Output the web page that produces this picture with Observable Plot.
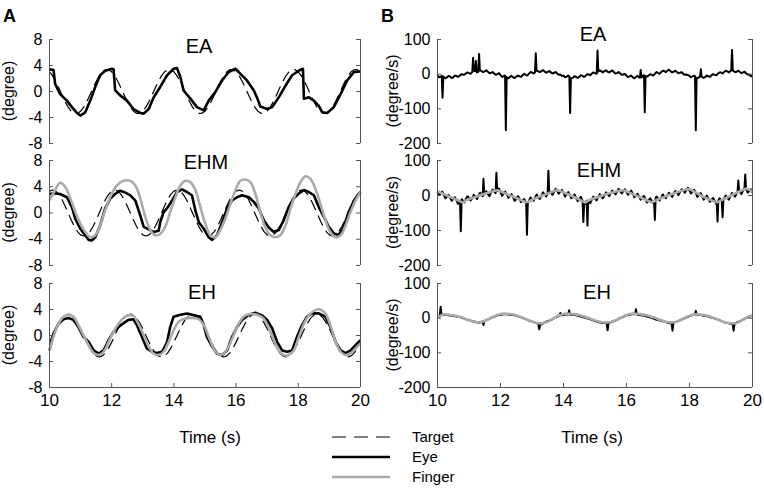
<!DOCTYPE html>
<html><head><meta charset="utf-8">
<script src="https://cdn.jsdelivr.net/npm/d3@7"></script>
<script src="https://cdn.jsdelivr.net/npm/@observablehq/plot@0.6"></script>
<style>
body{margin:0;background:#fff;}
#root{position:relative;width:764px;height:488px;overflow:hidden;background:#fff;}
</style></head><body><div id="root"></div>
<script>
// ---------------- DATA ----------------
const timeStart = 10, timeStep = 0.1;
const xTicks = [10, 12, 14, 16, 18, 20];
const posTicks = [-8, -4, 0, 4, 8];
const velTicks = [-200, -100, 0, 100];
const panelTitles = ["EA", "EHM", "EH"];
const legendLabels = ["Target", "Eye", "Finger"];

// Column A: position (degree); targets sampled every 0.1 s from 10 to 20 s
const eaTarget = [3.03,2.40,1.54,0.53,-0.53,-1.54,-2.40,-3.03,-3.36,-3.36,-3.03,-2.40,-1.54,-0.53,0.53,1.54,2.40,3.03,3.36,3.36,
 3.03,2.40,1.54,0.53,-0.53,-1.54,-2.40,-3.03,-3.36,-3.36,-3.03,-2.40,-1.54,-0.53,0.53,1.54,2.40,3.03,3.36,3.36,
 3.03,2.40,1.54,0.53,-0.53,-1.54,-2.40,-3.03,-3.36,-3.36,-3.03,-2.40,-1.54,-0.53,0.53,1.54,2.40,3.03,3.36,3.36,
 3.03,2.40,1.54,0.53,-0.53,-1.54,-2.40,-3.03,-3.36,-3.36,-3.03,-2.40,-1.54,-0.53,0.53,1.54,2.40,3.03,3.36,3.36,
 3.03,2.40,1.54,0.53,-0.53,-1.54,-2.40,-3.03,-3.36,-3.36,-3.03,-2.40,-1.54,-0.53,0.53,1.54,2.40,3.03,3.36,3.36,3.03];
const ehmTarget = [3.33,3.5,3.33,2.83,2.06,1.08,0,-1.08,-2.06,-2.83,-3.33,-3.5,-3.33,-2.83,-2.06,-1.08,0,1.08,2.06,2.83,
 3.33,3.5,3.33,2.83,2.06,1.08,0,-1.08,-2.06,-2.83,-3.33,-3.5,-3.33,-2.83,-2.06,-1.08,0,1.08,2.06,2.83,
 3.33,3.5,3.33,2.83,2.06,1.08,0,-1.08,-2.06,-2.83,-3.33,-3.5,-3.33,-2.83,-2.06,-1.08,0,1.08,2.06,2.83,
 3.33,3.5,3.33,2.83,2.06,1.08,0,-1.08,-2.06,-2.83,-3.33,-3.5,-3.33,-2.83,-2.06,-1.08,0,1.08,2.06,2.83,
 3.33,3.5,3.33,2.83,2.06,1.08,0,-1.08,-2.06,-2.83,-3.33,-3.5,-3.33,-2.83,-2.06,-1.08,0,1.08,2.06,2.83,3.33];
const ehTarget = [-1.02,0,1.02,1.94,2.67,3.14,3.3,3.14,2.67,1.94,1.02,0,-1.02,-1.94,-2.67,-3.14,-3.3,-3.14,-2.67,-1.94,
 -1.02,0,1.02,1.94,2.67,3.14,3.3,3.14,2.67,1.94,1.02,0,-1.02,-1.94,-2.67,-3.14,-3.3,-3.14,-2.67,-1.94,
 -1.02,0,1.02,1.94,2.67,3.14,3.3,3.14,2.67,1.94,1.02,0,-1.02,-1.94,-2.67,-3.14,-3.3,-3.14,-2.67,-1.94,
 -1.02,0,1.02,1.94,2.67,3.14,3.3,3.14,2.67,1.94,1.02,0,-1.02,-1.94,-2.67,-3.14,-3.3,-3.14,-2.67,-1.94,
 -1.02,0,1.02,1.94,2.67,3.14,3.3,3.14,2.67,1.94,1.02,0,-1.02,-1.94,-2.67,-3.14,-3.3,-3.14,-2.67,-1.94,-1.02];

// eye / finger position: [time (s), degree]
const eaEye = [[10.00,3.4],[10.13,3.3],[10.18,1.2],[10.34,-0.4],[10.56,-1.4],[10.72,-2.4],[10.88,-3.3],[10.99,-3.7],[11.15,-3.2],[11.31,-1.4],[11.47,0.7],[11.63,2.5],[11.79,3.2],[12.01,3.5],[12.06,3.4],[12.11,0.2],[12.27,-0.6],[12.49,-1.4],[12.70,-2.7],[12.92,-3.3],[13.03,-3.4],[13.19,-2.7],[13.35,-0.9],[13.56,0.7],[13.78,2.5],[13.99,3.5],[14.10,3.6],[14.21,2.2],[14.31,0.15],[14.53,-1.1],[14.74,-2.4],[14.96,-2.9],[15.12,-1.4],[15.33,-0.1],[15.55,1.7],[15.76,3.0],[15.98,3.5],[16.14,2.7],[16.35,1.7],[16.57,0.15],[16.67,-0.9],[16.78,-2.3],[17.00,-2.7],[17.16,-2.4],[17.37,-0.9],[17.59,0.9],[17.80,2.5],[18.02,3.2],[18.15,3.5],[18.18,-1.1],[18.34,-0.9],[18.50,-1.4],[18.66,-2.2],[18.77,-3.2],[18.93,-3.3],[19.14,-2.4],[19.36,-0.4],[19.57,1.7],[19.79,3.0],[20.00,3.1]];
const ehmEye = [[10.00,2.9],[10.13,3.0],[10.34,2.9],[10.56,2.4],[10.72,0.9],[10.83,-0.9],[10.99,-2.4],[11.15,-3.4],[11.26,-4.1],[11.36,-4.2],[11.47,-3.7],[11.63,-1.9],[11.79,0.7],[11.95,2.2],[12.11,2.9],[12.27,3.4],[12.44,3.1],[12.60,2.7],[12.76,1.9],[12.92,-0.4],[13.03,-2.1],[13.19,-2.5],[13.35,-2.9],[13.51,-2.7],[13.56,-1.4],[13.67,0.15],[13.78,0.7],[13.94,1.9],[14.10,3.2],[14.26,3.6],[14.42,3.2],[14.58,2.7],[14.69,0.4],[14.80,-1.4],[14.96,-2.4],[15.12,-3.7],[15.23,-4.1],[15.39,-3.4],[15.55,-1.4],[15.71,0.7],[15.87,1.9],[16.03,2.4],[16.19,2.7],[16.41,2.4],[16.57,1.7],[16.73,0.7],[16.89,-1.1],[17.05,-2.2],[17.21,-2.9],[17.37,-2.6],[17.53,-1.1],[17.69,0.9],[17.85,2.2],[18.02,3.0],[18.18,3.5],[18.34,3.2],[18.50,2.7],[18.66,0.9],[18.82,-0.6],[18.98,-2.1],[19.14,-3.1],[19.30,-3.4],[19.46,-2.1],[19.62,0.15],[19.79,1.9],[20.00,3.2]];
const ehmFinger = [[10.00,1.9],[10.18,3.5],[10.34,4.6],[10.50,4.0],[10.67,2.2],[10.83,0.15],[10.99,-1.6],[11.15,-2.9],[11.31,-3.7],[11.47,-3.4],[11.63,-1.9],[11.79,0.4],[11.95,2.4],[12.17,4.2],[12.38,4.9],[12.60,4.9],[12.76,4.2],[12.92,2.2],[13.08,-0.6],[13.24,-2.6],[13.40,-3.4],[13.56,-3.2],[13.72,-2.1],[13.88,0.15],[14.05,2.4],[14.21,4.2],[14.37,4.9],[14.53,4.7],[14.69,3.5],[14.85,0.9],[15.01,-1.6],[15.17,-3.4],[15.33,-3.7],[15.49,-2.6],[15.65,-0.9],[15.82,1.4],[15.98,3.5],[16.14,4.9],[16.30,5.1],[16.46,4.7],[16.62,2.9],[16.78,0.15],[16.94,-2.2],[17.10,-3.4],[17.26,-3.7],[17.42,-3.4],[17.59,-1.9],[17.75,0.7],[17.91,2.9],[18.07,4.7],[18.23,5.6],[18.39,5.2],[18.55,3.7],[18.71,1.4],[18.87,-1.1],[19.03,-2.9],[19.20,-3.7],[19.36,-3.4],[19.52,-1.9],[19.68,0.15],[19.84,1.9],[20.00,3.2]];
const ehEye = [[10.00,-2.3],[10.13,0.3],[10.29,1.8],[10.45,2.5],[10.61,2.7],[10.77,2.4],[10.93,1.3],[11.09,-0.2],[11.26,-1.0],[11.42,-2.3],[11.58,-2.8],[11.74,-2.3],[11.90,-0.7],[12.06,0.6],[12.22,1.3],[12.38,1.9],[12.54,2.4],[12.70,2.5],[12.81,1.6],[12.97,-0.2],[13.13,-2.0],[13.29,-2.5],[13.45,-2.7],[13.62,-2.5],[13.78,-1.0],[13.88,1.3],[13.99,2.9],[14.21,3.2],[14.42,3.4],[14.64,3.1],[14.85,2.9],[14.96,1.6],[15.06,-0.2],[15.23,-1.7],[15.39,-2.8],[15.55,-3.0],[15.71,-2.3],[15.87,-0.2],[16.03,1.3],[16.19,2.4],[16.41,3.2],[16.62,3.5],[16.83,3.1],[17.00,2.4],[17.16,1.1],[17.32,-1.0],[17.48,-2.3],[17.64,-2.5],[17.80,-2.3],[17.96,-0.2],[18.12,1.6],[18.28,2.9],[18.44,3.4],[18.66,3.4],[18.87,2.9],[19.03,1.3],[19.20,-1.0],[19.36,-2.3],[19.52,-2.7],[19.68,-2.3],[19.84,-1.5],[20.00,-0.7]];
const ehFinger = [[10.00,-2.3],[10.13,-0.2],[10.29,1.8],[10.45,2.9],[10.61,3.2],[10.77,2.9],[10.93,1.6],[11.09,0.05],[11.26,-1.5],[11.42,-2.7],[11.58,-3.0],[11.74,-2.5],[11.90,-1.0],[12.06,0.6],[12.22,1.8],[12.38,2.7],[12.54,3.1],[12.70,3.0],[12.86,1.8],[13.03,0.05],[13.19,-1.7],[13.35,-2.8],[13.51,-3.0],[13.67,-2.5],[13.83,-1.0],[13.99,0.8],[14.15,2.1],[14.37,2.6],[14.58,2.7],[14.80,2.5],[14.96,1.6],[15.12,-0.2],[15.28,-2.0],[15.44,-2.9],[15.60,-2.8],[15.76,-1.7],[15.92,0.05],[16.08,1.8],[16.24,2.9],[16.46,3.3],[16.67,3.2],[16.89,2.6],[17.05,1.1],[17.21,-0.7],[17.37,-2.3],[17.53,-3.0],[17.69,-3.0],[17.85,-2.3],[18.02,-0.2],[18.18,1.8],[18.34,3.1],[18.55,3.9],[18.71,4.0],[18.87,3.4],[19.03,1.6],[19.20,-1.0],[19.36,-2.5],[19.52,-3.0],[19.68,-2.8],[19.84,-2.0],[20.00,-1.2]];

// Column B: velocity (degree/s). Values every 0.1 s (10.0..20.0), in-between values at 10.05..19.95,
// plus saccade spikes [time, peak].
const eaEyeVel = [-3,-7,-8,-9,-7,-9,-5,-5,-1,2,3,6,9,7,9,8,7,4,2,0,
 -3,-6,-9,-8,-9,-7,-6,-3,-2,1,5,5,8,9,8,7,5,4,2,-1,
 -4,-7,-8,-10,-8,-8,-5,-5,-1,2,3,7,8,9,7,8,6,3,2,-1,
 -4,-6,-9,-8,-9,-7,-5,-4,-2,1,4,6,9,10,8,7,6,4,1,-1,
 -5,-6,-9,-9,-8,-8,-6,-3,-2,1,5,6,8,9,9,7,6,5,2,-2,-4];
const eaEyeVelMid = [-9,-4,-12,-5,-11,-4,-8,0,-2,5,1,10,5,11,6,11,3,6,-2,3,
 -8,-4,-12,-5,-11,-4,-8,1,-4,6,2,10,6,12,4,9,2,6,-2,-5,
 -9,-4,-12,-6,-11,-3,-8,0,-3,5,1,11,5,11,5,11,2,6,-2,1,
 -9,-4,-12,-5,-12,-3,-7,0,-4,6,1,10,6,13,5,10,3,6,-2,-3,
 -9,-4,-12,-6,-11,-4,-8,0,-3,5,2,10,5,12,6,10,3,7,-1,-6];
const eaSpikes = [[10.16,-68],[11.13,47],[11.22,38],[11.32,58],[12.17,-162],[13.12,60],[14.21,-112],[15.08,68],[16.45,12],[16.58,-110],[18.2,-162],[18.36,14],[19.35,70]];
const ehmEyeVel = [10,6,2,-3,-6,-10,-13,-18,-14,
 -10,-6,-8,-3,0,2,6,4,9,12,14,
 10,5,3,-2,-5,-10,-8,-14,-20,-16,
 -10,-5,-7,0,3,5,8,10,13,
 11,8,4,2,-4,-6,-10,-14,-22,
 -16,-12,-8,-5,-2,0,4,6,9,11,12,13,
 10,9,5,0,-3,-7,-10,-14,-16,
 -12,-8,-6,-3,1,2,6,8,10,14,16,14,
 12,7,2,-2,-6,-9,-12,-16,-18,
 -12,-8,-6,-2,3,6,10,14,18,14,8];
const ehmEyeVelMid = [1,11,-8,2,-15,-5,-24,-9,-20,-2,-14,2,-10,8,-4,12,-2,17,6,20,
 -1,11,-7,4,-15,-2,-19,-10,-25,-6,-15,3,-10,9,-3,13,2,19,5,16,
 -3,10,-8,3,-16,-4,-26,-12,-22,-3,-14,4,-8,9,-2,14,3,19,6,18,
 2,14,-5,5,-12,-1,-20,-8,-22,-3,-14,3,-8,8,-4,13,1,18,8,22,
 6,16,-4,7,-12,0,-18,-7,-24,-8,-17,0,-12,7,-3,15,4,23,8,18];
const ehmSpikes = [[10.74,-102],[11.46,48],[11.87,65],[12.84,-112],[13.52,71],[14.63,-76],[14.76,-86],[16.9,-70],[18.89,-74],[19.05,-62],[19.55,43],[19.77,60]];
const ehmFingerVel = [12,8,4,0,-4,-8,-12,-16,-20,
 -14,-10,-7,-4,-1,2,5,8,11,13,15,
 12,8,4,0,-3,-7,-11,-15,-19,-18,
 -12,-8,-5,-1,2,6,9,13,15,
 13,9,5,1,-3,-7,-11,-16,-20,
 -14,-10,-7,-4,-1,2,5,7,10,12,14,15,
 12,8,4,0,-4,-8,-12,-16,-20,
 -15,-11,-7,-4,0,3,6,9,12,15,18,18,
 13,8,3,-2,-6,-10,-14,-18,-19,
 -14,-10,-5,-1,4,8,12,16,20,16,12];
const ehEyeVel = [2,8,10,
 9,8,7,5,3,0,-3,-6,-9,-10,-13,
 -11,-7,-4,1,4,8,10,11,
 11,10,9,7,4,1,-3,-7,-10,-13,-16,-18,
 -12,-8,-6,0,4,8,9,11,
 10,10,8,6,3,1,-2,-5,-8,-11,-13,-14,-15,
 -12,-9,-5,0,4,8,10,12,
 11,9,8,6,3,1,-3,-5,-8,-10,-13,-15,
 -13,-10,-6,-2,2,6,9,10,
 10,8,7,5,2,-1,-4,-8,-12,-14,-16,-17,
 -12,-9,-4,1,5,8];
const ehSpikes = [[10.1,33],[11.46,-20],[13.23,-32],[13.9,15],[14.18,23],[15.4,-35],[16.3,26],[17.46,-36],[18.2,21],[19.4,-36]];
const ehFingerVel = [0,7,11,
 10.7,10,8.5,6.5,4,1,-2.5,-6,-9,-11.5,-12,
 -10.5,-8,-4,0,5,9,12,13,
 12.7,12,10.5,8,5,2,-2,-6,-10,-13,-14.7,-15,
 -13,-10,-5,0,5,9,12,13,
 12.8,12,11,9,6,3.5,0.5,-3,-6,-9,-11,-12,-12,
 -11,-8,-4,1,5,9,12,13,
 12.8,12,11,9,6.5,4,1,-2.5,-6,-9,-11,-12,
 -11.8,-10,-6,-1,3,7,10,11,
 11,10,8.5,6,3,0,-4,-7.5,-11,-13.5,-14.7,-15,
 -14,-10,-5,0,4,7];

// ---------------- HELPERS ----------------
const font = "'Liberation Sans', Arial, Helvetica, sans-serif";
const axisColor = "#555";
const targetStyle = {stroke: "#000", width: 1.2, dash: "11,6"};
const eyeStyle = {stroke: "#000", width: 2.6};
const fingerStyle = {stroke: "#aaaaaa", width: 2.6};

function seq(values, mids) {
  const pts = values.map((v, i) => [timeStart + i * timeStep, v]);
  if (mids) mids.forEach((v, i) => pts.push([timeStart + (i + 0.5) * timeStep, v]));
  return pts.sort((a, b) => a[0] - b[0]);
}
function interpAt(pts, t) {
  const i = d3.bisector(d => d[0]).left(pts, t);
  if (i <= 0) return pts[0][1];
  if (i >= pts.length) return pts[pts.length - 1][1];
  const [t0, v0] = pts[i - 1], [t1, v1] = pts[i];
  return v0 + (v1 - v0) * (t - t0) / (t1 - t0);
}
function withSpikes(base, mids, spikes, hw) {
  const pts = seq(base, mids);
  const out = pts.filter(p => !spikes.some(([t]) => Math.abs(p[0] - t) <= hw + 1e-9));
  for (const [t, peak] of spikes) {
    out.push([t - hw, interpAt(pts, t - hw)], [t, peak], [t + hw, interpAt(pts, t + hw)]);
  }
  return out.sort((a, b) => a[0] - b[0]);
}

const rows = [{top: 39, bottom: 143}, {top: 160, bottom: 265}, {top: 283, bottom: 387}];
const cols = [{left: 0, width: 380, mL: 49, mR: 20}, {left: 380, width: 384, mL: 57, mR: 12}];
const root = document.getElementById("root");

function drawPanel(r, c, yDomain, yTicks, series) {
  const row = rows[r], col = cols[c];
  const bottomRow = r === 2;
  const mT = 30, mB = bottomRow ? 40 : 20;
  const h = row.bottom - row.top;
  const x0 = xTicks[0], x1 = xTicks[xTicks.length - 1];
  const pxX = (col.width - col.mL - col.mR) / (x1 - x0);
  const pxY = h / (yDomain[1] - yDomain[0]);
  const tx = 4 / pxX, ty = 4 / pxY;
  const marks = [];
  for (const s of series) {
    marks.push(Plot.line(s.data, {x: d => d[0], y: d => d[1], stroke: s.style.stroke, strokeWidth: s.style.width,
      strokeDasharray: s.style.dash, curve: s.curve || "linear", strokeLinejoin: "round", strokeLinecap: "butt"}));
  }
  marks.push(Plot.ruleX([x0, x1], {stroke: axisColor, strokeWidth: 1}));
  marks.push(Plot.ruleY(yTicks, {x1: x0, x2: x0 + tx, stroke: axisColor}));
  marks.push(Plot.ruleY(yTicks, {x1: x1 - tx, x2: x1, stroke: axisColor}));
  marks.push(Plot.text(yTicks, {y: d => d, frameAnchor: "left", dx: -7, textAnchor: "end", text: d => String(d), fontSize: 16, fill: "#000"}));
  if (bottomRow) {
    marks.push(Plot.ruleY([yDomain[0]], {stroke: axisColor}));
    marks.push(Plot.ruleX(xTicks, {y1: yDomain[0], y2: yDomain[0] + ty, stroke: axisColor}));
    marks.push(Plot.text(xTicks, {x: d => d, frameAnchor: "bottom", dy: 18, text: d => String(d), fontSize: 17, fill: "#000"}));
  }
  const svg = Plot.plot({
    width: col.width, height: h + mT + mB,
    marginLeft: col.mL, marginRight: col.mR, marginTop: mT, marginBottom: mB,
    x: {domain: [x0, x1], axis: null},
    y: {domain: yDomain, axis: null},
    style: {background: "transparent", overflow: "visible", fontFamily: font},
    marks
  });
  svg.style.position = "absolute";
  svg.style.left = col.left + "px";
  svg.style.top = (row.top - mT) + "px";
  root.appendChild(svg);
}

// Column A
drawPanel(0, 0, [-8, 8], posTicks, [
  {data: seq(eaTarget), style: targetStyle},
  {data: eaEye, style: eyeStyle}
]);
drawPanel(1, 0, [-8, 8], posTicks, [
  {data: seq(ehmTarget), style: targetStyle},
  {data: ehmEye, style: eyeStyle},
  {data: ehmFinger, style: fingerStyle, curve: "catmull-rom"}
]);
drawPanel(2, 0, [-8, 8], posTicks, [
  {data: seq(ehTarget), style: targetStyle},
  {data: ehEye, style: eyeStyle},
  {data: ehFinger, style: fingerStyle, curve: "catmull-rom"}
]);
// Column B
const velEye = {stroke: "#000", width: 2};
drawPanel(0, 1, [-200, 100], velTicks, [
  {data: withSpikes(eaEyeVel, eaEyeVelMid, eaSpikes, 0.025), style: velEye}
]);
drawPanel(1, 1, [-200, 100], velTicks, [
  {data: withSpikes(ehmEyeVel, ehmEyeVelMid, ehmSpikes, 0.025), style: velEye},
  {data: seq(ehmFingerVel), style: fingerStyle}
]);
drawPanel(2, 1, [-200, 100], velTicks, [
  {data: withSpikes(ehEyeVel, null, ehSpikes, 0.03), style: velEye},
  {data: seq(ehFingerVel), style: fingerStyle, curve: "catmull-rom"}
]);

// ---------------- TEXT OVERLAY ----------------
const ov = d3.select(root).append("svg")
  .attr("width", 764).attr("height", 488)
  .style("position", "absolute").style("left", "0px").style("top", "0px")
  .style("font-family", font).style("overflow", "visible");

ov.append("text").attr("x", 3).attr("y", 22).attr("font-size", 18).attr("font-weight", "bold").text("A");
ov.append("text").attr("x", 381).attr("y", 22).attr("font-size", 18).attr("font-weight", "bold").text("B");

const titlePos = [[[199, 53], [206, 169], [202, 299]], [[593, 41], [599, 177], [597, 299]]];
titlePos.forEach(colPos => colPos.forEach(([x, y], r) => {
  ov.append("text").attr("x", x).attr("y", y).attr("text-anchor", "middle").attr("font-size", 20).text(panelTitles[r]);
}));
const yLabels = ["(degree)", "(degree/s)"];
[8, 392].forEach((x, c) => rows.forEach(row => {
  const cy = (row.top + row.bottom) / 2;
  ov.append("text").attr("transform", `translate(${x},${cy}) rotate(-90)`).attr("text-anchor", "middle")
    .attr("dy", "0.35em").attr("font-size", 16).text(yLabels[c]);
}));
[210, 592].forEach(x => ov.append("text").attr("x", x).attr("y", 443).attr("text-anchor", "middle").attr("font-size", 17).text("Time (s)"));

const legendStyles = [targetStyle, eyeStyle, fingerStyle];
legendLabels.forEach((lab, i) => {
  const y = 437 + i * 20;
  const st = legendStyles[i];
  ov.append("line").attr("x1", 332).attr("x2", 390).attr("y1", y).attr("y2", y)
    .attr("stroke", st.stroke).attr("stroke-width", st.width).attr("stroke-dasharray", i === 0 ? "14,8" : null);
  ov.append("text").attr("x", 412).attr("y", y + 5).attr("font-size", 15).text(lab);
});
</script></body></html>
